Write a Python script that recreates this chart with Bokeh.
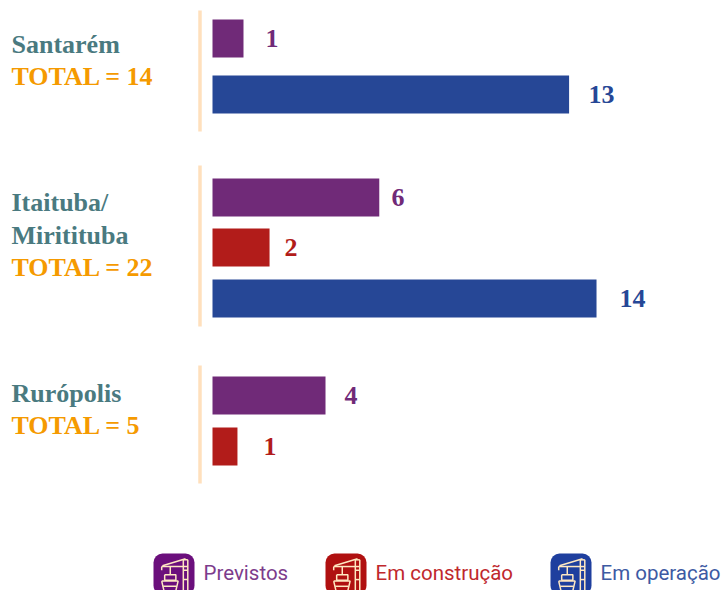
from bokeh.plotting import figure
from bokeh.models import Range1d, ColumnDataSource
from bokeh.core.properties import value
from bokeh.embed import file_html
from bokeh.resources import INLINE

# --- data
statuses = ["Previstos", "Em construção", "Em operação"]
santarem_labels = [1, 13]
santarem_status = [0, 2]
santarem_lengths = [1.13, 13.0]
itaituba_labels = [6, 2, 14]
itaituba_status = [0, 1, 2]
itaituba_lengths = [6.08, 2.08, 14.0]
ruropolis_labels = [4, 1]
ruropolis_status = [0, 1]
ruropolis_lengths = [4.12, 0.91]
group_titles = [["Santarém"], ["Itaituba/", "Miritituba"], ["Rurópolis"]]
group_totals = ["TOTAL = 14", "TOTAL = 22", "TOTAL = 5"]

# --- styles and layout (window pixels)
W, H = 722, 590
PX_PER_UNIT = 27.43
ZERO_X = 212
BAR_H = 38
bar_colors = ["#702A78", "#B21C1A", "#264796"]
icon_colors = ["#6B0F7C", "#B01010", "#1F3F9E"]
legend_colors = ["#7D3C8C", "#C0282D", "#3D5AA3"]
TITLE = "#4A7A80"
TOTAL = "#F59A00"
SEP = "#FFE0BD"
SERIF = value("Liberation Serif")
SANS = value("Roboto")

bar_tops = [19, 75, 178, 228, 279, 376, 427]
label_xs = [265, 588, 391, 284, 619, 344, 263]
sep_spans = [(10, 131), (165, 326), (365, 483)]
title_base = [[53], [211, 244], [402]]
total_base = [85, 276, 434]
TEXT_SHIFT = -9
icon_lefts = [153, 325, 550]
icon_top = 553
icon_size = 41
legend_text_x = [203, 375, 600]
legend_text_y = 572

p = figure(width=W, height=H, output_backend="svg", toolbar_location=None,
           x_range=Range1d(-ZERO_X / PX_PER_UNIT, (W - ZERO_X) / PX_PER_UNIT),
           y_range=Range1d(H, 0), min_border=0,
           x_axis_type="linear", background_fill_color="white")
p.axis.visible = False
p.grid.visible = False
p.outline_line_color = None
p.extra_x_ranges = {"px": Range1d(0, W)}

lengths = santarem_lengths + itaituba_lengths + ruropolis_lengths
labels = santarem_labels + itaituba_labels + ruropolis_labels
status = santarem_status + itaituba_status + ruropolis_status

src = ColumnDataSource(dict(
    left=[0] * len(lengths), right=lengths,
    top=bar_tops, bottom=[t + BAR_H for t in bar_tops],
    color=[bar_colors[s] for s in status]))
p.quad(left="left", right="right", top="top", bottom="bottom", fill_color="color",
       line_color=None, source=src)

# value labels
p.text(x=label_xs, y=[t + BAR_H / 2 for t in bar_tops],
       text=[str(v) for v in labels], text_color=[bar_colors[s] for s in status],
       text_font=SERIF, text_font_style="bold", text_font_size="26px",
       text_baseline="middle", text_align="left", x_range_name="px")

# separators
for a, b in sep_spans:
    p.line([199.5, 199.5], [a, b], line_color=SEP, line_width=3.5, x_range_name="px")

# group titles
for lines, bases, tot, tb in zip(group_titles, title_base, group_totals, total_base):
    p.text(x=[11] * len(lines), y=[b + TEXT_SHIFT for b in bases], text=lines, text_color=TITLE,
           text_font=SERIF, text_font_style="bold", text_font_size="26px",
           text_baseline="alphabetic", x_range_name="px")
    p.text(x=[11], y=[tb + TEXT_SHIFT], text=[tot], text_color=TOTAL,
           text_font=SERIF, text_font_style="bold", text_font_size="26px",
           text_baseline="alphabetic", x_range_name="px")

# legend icons: rounded tile + crane pictogram in 0..110 tile units
crane = [
    [(22, 35), (92, 35)], [(22, 35), (22, 45)], [(24, 33), (86, 14)],
    [(80, 17), (80, 100)], [(92, 17), (92, 100)], [(80, 45), (92, 45)], [(80, 70), (92, 70)],
    [(80, 17), (92, 17)],
    [(45, 35), (45, 57)], [(30, 57), (60, 57), (60, 72), (30, 72), (30, 57)],
    [(22, 74), (66, 74), (58, 108), (30, 108), (22, 74)], [(26, 88), (62, 88)],
    [(70, 102), (98, 102), (98, 110), (70, 110), (70, 102)],
]
CREAM = "#FFE8C2"
for i, name in enumerate(statuses):
    l = icon_lefts[i]
    t = icon_top
    p.quad(left=[l], right=[l + icon_size], top=[t], bottom=[t + icon_size],
           fill_color=icon_colors[i], line_color=None, border_radius=9, x_range_name="px")
    s = icon_size / 110
    p.multi_line(xs=[[l + x * s for x, _ in seg] for seg in crane],
                 ys=[[t + y * s for _, y in seg] for seg in crane],
                 line_color=CREAM, line_width=1.5, x_range_name="px")
    p.text(x=[legend_text_x[i]], y=[legend_text_y], text=[name], text_color=legend_colors[i],
           text_font=SANS, text_font_size="20.5px", text_baseline="alphabetic", x_range_name="px")

open("out.html", "w").write(file_html(p, INLINE))
